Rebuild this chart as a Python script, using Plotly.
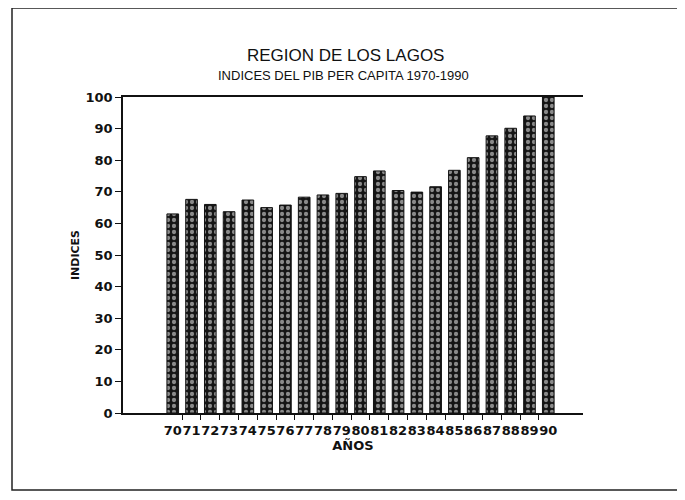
import plotly.graph_objects as go

years = list(range(70, 91))
tick_labels = [str(y) for y in years]
indices = [63.0, 67.6, 66.0, 63.7, 67.4, 65.0, 65.8, 68.3, 69.0, 69.5, 74.8,
           76.6, 70.4, 69.9, 71.6, 76.8, 80.8, 87.7, 90.1, 94.0, 100.0]

title_main = "REGION DE LOS LAGOS"
title_sub = "INDICES DEL PIB PER CAPITA 1970-1990"

OFF = 8  # page body margin
W, H = 685 - 2 * OFF, 500 - 2 * OFF
# plot area in page pixels: left 123, right 583, top 97, bottom 413
L, T = 123 - OFF, 97 - OFF
R = W - (583 - OFF)
B = H - (413 - OFF)
pw, ph = W - L - R, H - T - B

fig = go.Figure()
fig.add_trace(go.Bar(
    x=years, y=indices, width=0.62,
    marker=dict(
        color="#151515",
        line=dict(color="#111111", width=1),
        pattern=dict(shape=".", fgcolor="#ffffff", bgcolor="#151515",
                     size=6, solidity=0.4, fillmode="overlay"),
    ),
    showlegend=False,
))

def px_x(x):
    return (x - OFF - L) / pw

def px_y(y):
    return (H - B - (y - OFF)) / ph

fig.add_shape(type="rect", xref="paper", yref="paper",
              x0=px_x(12), x1=px_x(680), y0=px_y(8), y1=px_y(490),
              line=dict(color="#222222", width=1.5), fillcolor="rgba(0,0,0,0)")

fig.add_annotation(text=title_main, xref="paper", yref="paper",
                   x=px_x(345), y=px_y(56), showarrow=False,
                   xanchor="center", yanchor="middle",
                   font=dict(family="Liberation Sans, sans-serif",
                             size=17, color="#111111"))
fig.add_annotation(text=title_sub, xref="paper", yref="paper",
                   x=px_x(343), y=px_y(75), showarrow=False,
                   xanchor="center", yanchor="middle",
                   font=dict(family="Liberation Sans, sans-serif",
                             size=13, color="#111111"))

fig.update_layout(
    width=W, height=H,
    margin=dict(l=L, r=R, t=T, b=B),
    paper_bgcolor="white", plot_bgcolor="white",
    font=dict(family="DejaVu Sans, sans-serif", color="#111111"),
)
fig.update_xaxes(
    range=[67.35, 91.85], automargin=False,
    tickvals=years, ticktext=tick_labels, tickangle=0,
    ticks="", tickfont=dict(size=13, family="DejaVu Sans", weight="bold"),
    ticklabelstandoff=5,
    showline=True, linecolor="#111111", linewidth=1.5, mirror=True,
    showgrid=False, zeroline=False,
    minor=dict(tickvals=[y + 0.5 for y in years[:-1]], ticks="outside",
               ticklen=5, tickcolor="#111111", tickwidth=1),
    title=dict(text="AÑOS", font=dict(size=13, family="DejaVu Sans", weight="bold"),
               standoff=2),
)
fig.update_yaxes(
    range=[0, 100], tickvals=list(range(0, 101, 10)), automargin=False,
    ticks="outside", ticklen=6, tickcolor="#111111",
    tickfont=dict(size=13, family="DejaVu Sans", weight="bold"),
    showline=True, linecolor="#111111", linewidth=1.5,
    showgrid=False, zeroline=False,
    title=dict(text="INDICES", font=dict(size=11, family="DejaVu Sans", weight="bold"),
               standoff=4),
)

fig.write_html("out.html")
